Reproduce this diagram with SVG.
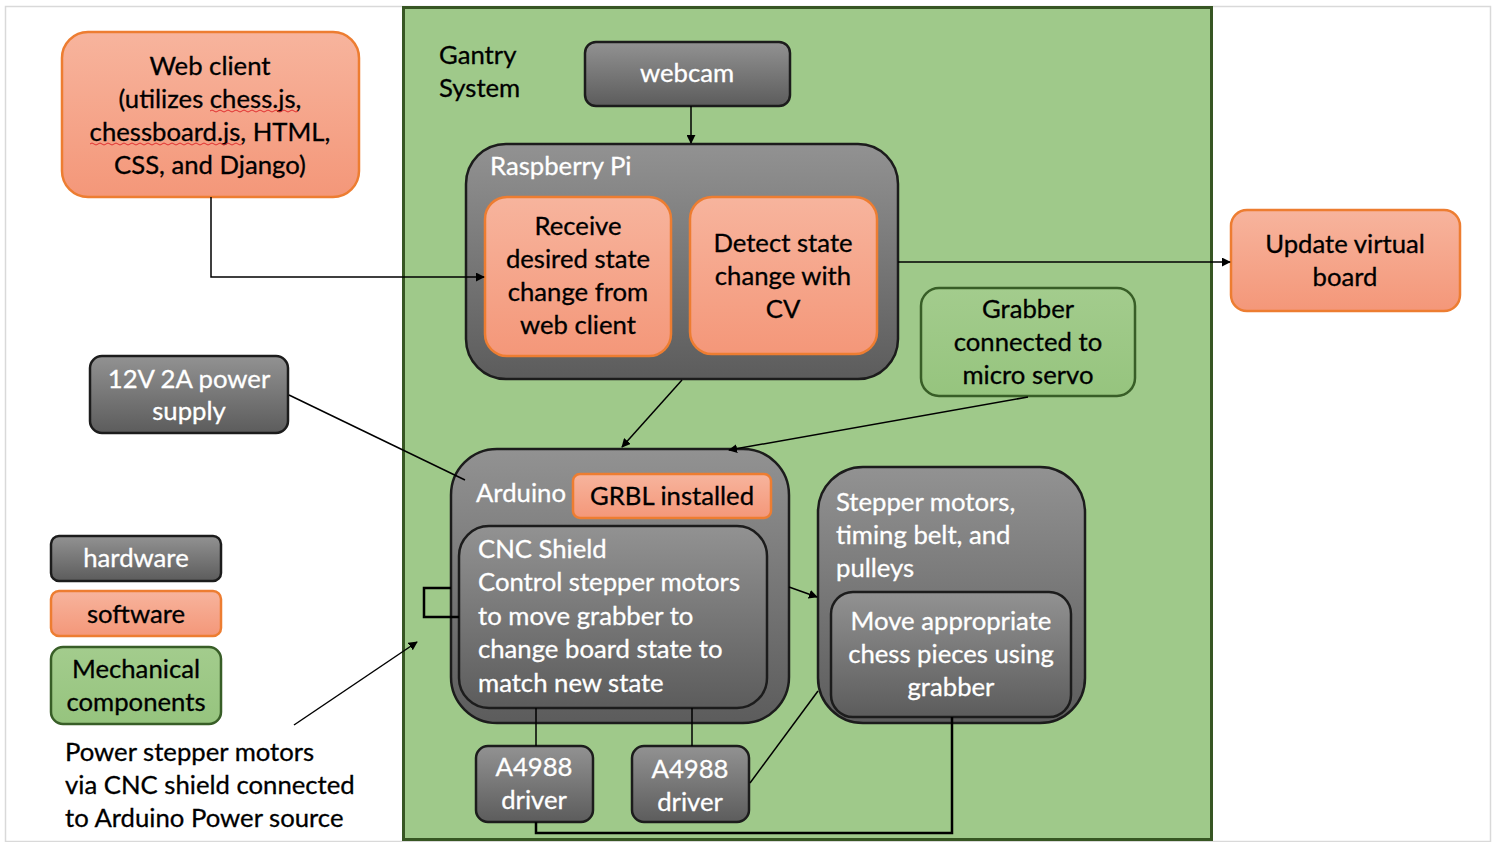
<svg xmlns="http://www.w3.org/2000/svg" width="1497" height="842" viewBox="0 0 1497 842">
<defs>
<linearGradient id="gGray" x1="0" y1="0" x2="0" y2="1"><stop offset="0" stop-color="#929292"/><stop offset="1" stop-color="#5c5c5c"/></linearGradient>
<linearGradient id="gOr" x1="0" y1="0" x2="0" y2="1"><stop offset="0" stop-color="#f7b49d"/><stop offset="1" stop-color="#f49779"/></linearGradient>
<linearGradient id="gGr" x1="0" y1="0" x2="0" y2="1"><stop offset="0" stop-color="#a3cc8d"/><stop offset="1" stop-color="#96c47e"/></linearGradient>
<marker id="ah" viewBox="0 0 10 10" refX="9" refY="5" markerWidth="9" markerHeight="9" markerUnits="userSpaceOnUse" orient="auto"><path d="M0,0 L10,5 L0,10 z" fill="#000"/></marker>
<style>
.hw{fill:url(#gGray);stroke:#1c1c1c;stroke-width:2.5}
.sw{fill:url(#gOr);stroke:#ed7d31;stroke-width:2.5}
.mc{fill:url(#gGr);stroke:#385e27;stroke-width:2.5}
text{font-family:Lato,"Liberation Sans",sans-serif;font-size:25.7px}
.w{fill:#fff;stroke:#fff;stroke-width:0.3}
.k{fill:#000;stroke:#000;stroke-width:0.3}
.c{text-anchor:middle}
.ln{fill:none;stroke:#000;stroke-width:1.5}
.lnb{fill:none;stroke:#000;stroke-width:2.5}
</style>
</defs>
<rect x="0" y="0" width="1497" height="842" fill="#fff"/>
<rect x="5.5" y="6.5" width="1485" height="835" fill="none" stroke="#d9d9d9" stroke-width="1.5"/>

<g id="gantry">
<rect x="403.5" y="7.5" width="808" height="832" fill="#9fc98a" stroke="#375623" stroke-width="3"/>
<text class="k" x="439" y="64">Gantry</text>
<text class="k" x="439" y="97">System</text>
</g>

<g id="webclient">
<rect class="sw" x="62" y="32" width="297" height="165" rx="26"/>
<text class="k c" x="210" y="75">Web client</text>
<text class="k c" x="210" y="108">(utilizes chess.js,</text>
<text class="k c" x="210" y="141">chessboard.js, HTML,</text>
<text class="k c" x="210" y="174">CSS, and Django)</text>
<path d="M210,111 q2,-2 4,0 t4,0 t4,0 t4,0 t4,0 t4,0 t4,0 t4,0 t4,0 t4,0 t4,0 t4,0 t4,0 t4,0 t4,0 t4,0 t4,0 t4,0 t4,0 t4,0 t4,0 t4,0" fill="none" stroke="#e03030" stroke-width="1"/>
<path d="M90,144 q2,-2 4,0 t4,0 t4,0 t4,0 t4,0 t4,0 t4,0 t4,0 t4,0 t4,0 t4,0 t4,0 t4,0 t4,0 t4,0 t4,0 t4,0 t4,0 t4,0 t4,0 t4,0 t4,0 t4,0 t4,0 t4,0 t4,0 t4,0 t4,0 t4,0 t4,0 t4,0 t4,0 t4,0 t4,0 t4,0 t4,0 t4,0 t4,0" fill="none" stroke="#e03030" stroke-width="1"/>
</g>

<g id="webcam">
<rect class="hw" x="585" y="42" width="205" height="64" rx="11"/>
<text class="w c" x="687" y="82">webcam</text>
</g>

<g id="raspberrypi">
<rect class="hw" x="466" y="144" width="432" height="235" rx="40"/>
<text class="w" x="490" y="175">Raspberry Pi</text>
</g>

<g id="receive">
<rect class="sw" x="485" y="197" width="186" height="159" rx="22"/>
<text class="k c" x="578" y="235">Receive</text>
<text class="k c" x="578" y="268">desired state</text>
<text class="k c" x="578" y="301">change from</text>
<text class="k c" x="578" y="334">web client</text>
</g>

<g id="detect">
<rect class="sw" x="690" y="197" width="187" height="157" rx="22"/>
<text class="k c" x="783" y="252">Detect state</text>
<text class="k c" x="783" y="285">change with</text>
<text class="k c" x="783" y="318">CV</text>
</g>

<g id="update">
<rect class="sw" x="1231" y="210" width="229" height="101" rx="16"/>
<text class="k c" x="1345" y="253">Update virtual</text>
<text class="k c" x="1345" y="286">board</text>
</g>

<g id="grabber">
<rect class="mc" x="921" y="288" width="214" height="108" rx="18"/>
<text class="k c" x="1028" y="318">Grabber</text>
<text class="k c" x="1028" y="351">connected to</text>
<text class="k c" x="1028" y="384">micro servo</text>
</g>

<g id="power">
<rect class="hw" x="90" y="356" width="198" height="77" rx="12"/>
<text class="w c" x="189" y="388">12V 2A power</text>
<text class="w c" x="189" y="420">supply</text>
</g>

<g id="arduino">
<rect class="hw" x="451" y="449" width="338" height="274" rx="46"/>
<text class="w" x="476" y="502">Arduino</text>
</g>

<g id="grbl">
<rect class="sw" x="573" y="474" width="198" height="44" rx="7"/>
<text class="k c" x="672" y="505">GRBL installed</text>
</g>

<g id="cncshield">
<rect class="hw" x="459" y="526" width="308" height="182" rx="30"/>
<text class="w" x="478" y="558">CNC Shield</text>
<text class="w" x="478" y="591">Control stepper motors</text>
<text class="w" x="478" y="625">to move grabber to</text>
<text class="w" x="478" y="658">change board state to</text>
<text class="w" x="478" y="692">match new state</text>
</g>

<g id="driver1">
<rect class="hw" x="476" y="746" width="117" height="76" rx="12"/>
<text class="w c" x="534" y="776">A4988</text>
<text class="w c" x="534" y="809">driver</text>
</g>

<g id="driver2">
<rect class="hw" x="632" y="746" width="117" height="76" rx="12"/>
<text class="w c" x="690" y="778">A4988</text>
<text class="w c" x="690" y="811">driver</text>
</g>

<g id="stepper">
<rect class="hw" x="818" y="467" width="267" height="256" rx="45"/>
<text class="w" x="836" y="511">Stepper motors,</text>
<text class="w" x="836" y="544">timing belt, and</text>
<text class="w" x="836" y="577">pulleys</text>
</g>

<g id="move">
<rect class="hw" x="831" y="592" width="240" height="125" rx="22"/>
<text class="w c" x="951" y="630">Move appropriate</text>
<text class="w c" x="951" y="663">chess pieces using</text>
<text class="w c" x="951" y="696">grabber</text>
</g>

<g id="legend">
<rect class="hw" x="51" y="536" width="170" height="45" rx="8"/>
<text class="w c" x="136" y="567">hardware</text>
<rect class="sw" x="51" y="591" width="170" height="45" rx="8"/>
<text class="k c" x="136" y="623">software</text>
<rect class="mc" x="51" y="647" width="170" height="77" rx="12"/>
<text class="k c" x="136" y="678">Mechanical</text>
<text class="k c" x="136" y="711">components</text>
</g>

<g id="note">
<text class="k" x="65" y="761">Power stepper motors</text>
<text class="k" x="65" y="794">via CNC shield connected</text>
<text class="k" x="65" y="827">to Arduino Power source</text>
</g>

<g id="connectors">
<line class="ln" x1="691" y1="106" x2="691" y2="143" marker-end="url(#ah)"/>
<polyline class="ln" points="211,197 211,277 484,277" marker-end="url(#ah)"/>
<line class="ln" x1="898" y1="262" x2="1230" y2="262" marker-end="url(#ah)"/>
<line class="ln" x1="682" y1="380" x2="622" y2="447" marker-end="url(#ah)"/>
<line class="ln" x1="1028" y1="397" x2="729" y2="450" marker-end="url(#ah)"/>
<line class="ln" x1="289" y1="395" x2="465" y2="480"/>
<polyline class="lnb" points="451,588 424,588 424,617 459,617"/>
<line class="ln" x1="294" y1="725" x2="417" y2="642" marker-end="url(#ah)"/>
<line class="ln" x1="789" y1="587" x2="817" y2="597" marker-end="url(#ah)"/>
<line class="ln" x1="536" y1="708" x2="536" y2="746"/>
<line class="ln" x1="692" y1="708" x2="692" y2="746"/>
<line class="ln" x1="750" y1="783" x2="818" y2="691"/>
<polyline class="lnb" points="536,822 536,833 952,833 952,717"/>
</g>
</svg>
